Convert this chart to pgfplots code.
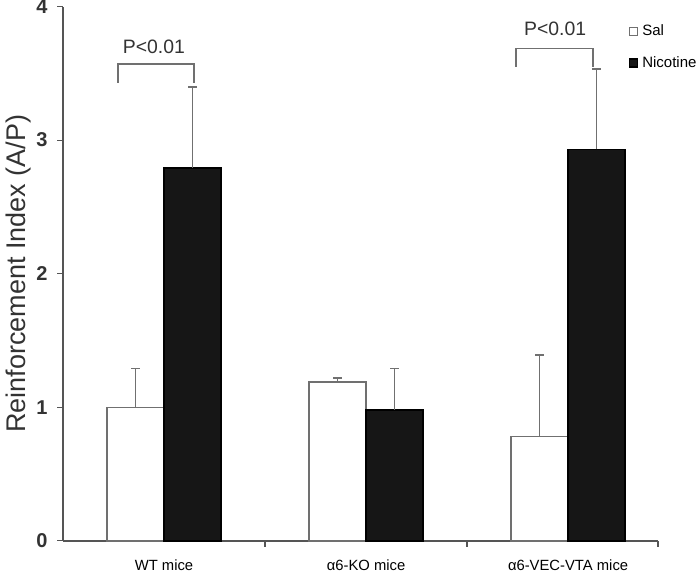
\documentclass[border=0pt]{standalone}
\usepackage{pgfplots}
\pgfplotsset{compat=1.18}
\usepackage{fontspec}
\setmainfont{Liberation Sans}
\definecolor{nicfill}{HTML}{161616}
\definecolor{edgegray}{HTML}{707070}
\definecolor{axgray}{HTML}{555555}
\begin{document}
\begin{tikzpicture}
\begin{axis}[
  scale only axis,
  width=297.5pt, height=267.2pt,
  xmin=-0.5, xmax=2.445, ymin=0, ymax=4,
  axis lines=left,
  axis line style={axgray, line width=0.7pt, -},
  clip=false,
  ytick={0,1,2,3,4},
  yticklabel style={font=\fontsize{10}{12}\selectfont\bfseries, text=black!80, anchor=center, xshift=-7.5pt},
  /pgf/number format/assume math mode=true,
  xtick={0.5,1.5,2.445},
  xticklabels={},
  extra x ticks={0,1,2},
  extra x tick labels={WT mice, α6-KO mice, α6-VEC-VTA mice},
  extra x tick style={major tick length=0pt, tick label style={font=\fontsize{7.4}{9}\selectfont, anchor=center, yshift=-12pt}},
  tick align=outside,
  major tick length=3pt,
  tick style={axgray, line width=0.6pt},
  ylabel={Reinforcement Index (A/P)},
  ylabel style={at={(rel axis cs:-0.0756,0.5)}, anchor=center, rotate=0, font=\fontsize{13.5}{16}\selectfont, text=black!80},
  legend style={at={(axis cs:2.30,3.90)}, anchor=north west, draw=none, fill=none,
    font=\fontsize{7.5}{9}\selectfont, row sep=5pt, inner sep=0pt,
    legend cell align=left},
  legend image code/.code={\draw[#1, line width=0.6pt] (0pt,-2pt) rectangle (4pt,2pt);},
]
% Sal
\addplot[ybar, bar width=0.282, bar shift=0, draw=edgegray, fill=white, line width=0.75pt,
  error bars/.cd, y dir=plus, y explicit,
  error mark=-,
  error bar style={edgegray, line width=0.75pt},
  error mark options={rotate=90, edgegray, mark size=2.2pt, line width=0.9pt}]
  coordinates {(-0.141,1.00) +- (0,0.29) (0.859,1.19) +- (0,0.03) (1.859,0.78) +- (0,0.61)};
\addlegendentry{Sal}
% Nicotine
\addplot[ybar, bar width=0.282, bar shift=0, draw=black, fill=nicfill, line width=0.75pt,
  error bars/.cd, y dir=plus, y explicit,
  error mark=-,
  error bar style={edgegray, line width=0.75pt},
  error mark options={rotate=90, edgegray, mark size=2.2pt, line width=0.9pt}]
  coordinates {(0.141,2.79) +- (0,0.61) (1.141,0.98) +- (0,0.31) (2.141,2.93) +- (0,0.60)};
\addlegendentry{Nicotine}
% significance brackets
\draw[edgegray, line width=0.75pt] (axis cs:-0.228,3.43) -- (axis cs:-0.228,3.57) -- (axis cs:0.149,3.57) -- (axis cs:0.149,3.43);
\node[font=\fontsize{9.7}{11}\selectfont, text=black!80] at (axis cs:-0.05,3.70) {P<0.01};
\draw[edgegray, line width=0.75pt] (axis cs:1.743,3.55) -- (axis cs:1.743,3.685) -- (axis cs:2.124,3.685) -- (axis cs:2.124,3.55);
\node[font=\fontsize{9.7}{11}\selectfont, text=black!80] at (axis cs:1.936,3.83) {P<0.01};
\coordinate (bbl) at (axis cs:-0.812,-0.24);
\coordinate (btr) at (axis cs:2.653,4.049);
\end{axis}
\pgfresetboundingbox
\path[use as bounding box] (bbl) rectangle (btr);
\end{tikzpicture}
\end{document}
